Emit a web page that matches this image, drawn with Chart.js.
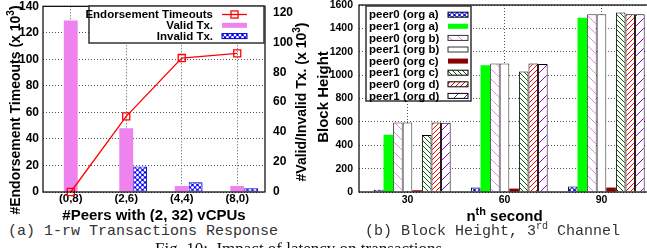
<!DOCTYPE html>
<html>
<head>
<meta charset="utf-8">
<script src="https://cdn.jsdelivr.net/npm/chart.js@4/dist/chart.umd.min.js"></script>
<style>
  body { margin: 0; width: 647px; height: 248px; overflow: hidden; background: #fff; position: relative; }
  canvas { position: absolute; top: 0; }
  .cap { position: absolute; top: 224px; font-family: "Liberation Mono", monospace; font-size: 15px; line-height: 15px; color: #333; white-space: nowrap; }
  .cap sup { font-size: 10px; line-height: 0; }
  #fig { position: absolute; left: 155px; top: 240px; font-family: "Liberation Serif", serif; font-size: 17px; line-height: 17px; color: #111; white-space: nowrap; }
</style>
</head>
<body>
<canvas id="chartA" width="318" height="222" style="left:0"></canvas>
<canvas id="chartB" width="340" height="222" style="left:312px"></canvas>
<div class="cap" style="left:8px">(a) 1-rw Transactions Response</div>
<div class="cap" style="left:365px">(b) Block Height, 3<sup>rd</sup> Channel</div>
<div id="fig">Fig. 10:&nbsp; Impact of latency on transactions</div>
<script>
// (a) data
const peerMix = ["(0,8)", "(2,6)", "(4,4)", "(8,0)"];
const endorsementTimeouts = [0, 57, 101, 104.5];
const validTx = [114.5, 42.5, 4, 4];
const invalidTx = [0, 17, 6.5, 2.5];
const leftTicksA = { min: 0, max: 140, step: 20 };
const rightTicksA = { min: 0, max: 124, step: 20 };

// (b) data
const seconds = ["30", "60", "90"];
const peer0a = [20, 38, 46];
const peer1a = [490, 1085, 1490];
const peer0b = [595, 1100, 1520];
const peer1b = [595, 1100, 1520];
const peer0c = [15, 29, 38];
const peer1c = [488, 1032, 1535];
const peer0d = [595, 1100, 1520];
const peer1d = [592, 1095, 1520];
const ticksB = { min: 0, max: 1600, step: 200 };

const FONT = '"Liberation Sans", Arial, sans-serif';

// hatch fills like gnuplot's patterns
function hatch(color, dir, step, lw) {
  const c = document.createElement("canvas");
  c.width = c.height = step;
  const g = c.getContext("2d");
  g.fillStyle = "#fff";
  g.fillRect(0, 0, step, step);
  g.strokeStyle = color;
  g.lineWidth = lw;
  g.beginPath();
  if (dir > 0) {
    g.moveTo(-1, step + 1); g.lineTo(step + 1, -1);
    g.moveTo(-1, 1); g.lineTo(1, -1);
    g.moveTo(step - 1, step + 1); g.lineTo(step + 1, step - 1);
  } else {
    g.moveTo(-1, -1); g.lineTo(step + 1, step + 1);
    g.moveTo(step - 1, -1); g.lineTo(step + 1, 1);
    g.moveTo(-1, step - 1); g.lineTo(1, step + 1);
  }
  g.stroke();
  return g.createPattern(c, "repeat");
}

function blueDots() {
  const c = document.createElement("canvas");
  c.width = c.height = 5;
  const g = c.getContext("2d");
  g.fillStyle = "#0000ff";
  g.fillRect(0, 0, 5, 5);
  g.fillStyle = "#fff";
  [[2.5, 2.5], [0, 0], [5, 0], [0, 5], [5, 5]].forEach(([x, y]) => {
    g.beginPath(); g.arc(x, y, 1.4, 0, Math.PI * 2); g.fill();
  });
  return g.createPattern(c, "repeat");
}

function drawParts(ctx, parts, x, y, rot, size) {
  ctx.save();
  ctx.translate(x, y);
  ctx.rotate(rot);
  const big = `bold ${size}px ${FONT}`;
  const small = `bold ${Math.round(size * 0.7)}px ${FONT}`;
  let w = 0;
  parts.forEach((p) => { ctx.font = p.sup ? small : big; w += ctx.measureText(p.t).width; });
  let cx = -w / 2;
  ctx.textAlign = "left";
  ctx.textBaseline = "alphabetic";
  ctx.fillStyle = "#000";
  parts.forEach((p) => {
    ctx.font = p.sup ? small : big;
    ctx.fillText(p.t, cx, size * 0.36 - (p.sup ? size * 0.42 : 0));
    cx += ctx.measureText(p.t).width;
  });
  ctx.restore();
}

// frame, boxed legend and axis titles (with superscripts)
const decor = {
  id: "decor",
  afterDatasetsDraw(chart, args, o) {
    const { ctx, chartArea: a } = chart;
    ctx.save();
    ctx.strokeStyle = "#000";
    ctx.lineWidth = 1.2;
    ctx.strokeRect(a.left, a.top, a.right - a.left, a.bottom - a.top);

    const L = o.legend;
    ctx.fillStyle = "#fff";
    ctx.fillRect(L.x, L.y, L.w, L.h);
    ctx.strokeStyle = "#333";
    ctx.lineWidth = 1.5;
    ctx.strokeRect(L.x, L.y, L.w, L.h);
    ctx.font = `bold 11.5px ${FONT}`;
    ctx.textBaseline = "middle";
    let i = 0;
    chart.data.datasets.forEach((ds) => {
      if (!ds.label) return;
      const y = L.rowY + i * L.rowH;
      i++;
      ctx.fillStyle = "#000";
      ctx.textAlign = L.align;
      ctx.fillText(ds.label, L.textX, y + 0.5);
      if (ds.type === "line") {
        ctx.strokeStyle = ds.borderColor;
        ctx.lineWidth = ds.borderWidth;
        ctx.beginPath();
        ctx.moveTo(L.sx, y); ctx.lineTo(L.sx + L.sw, y);
        ctx.stroke();
        const s = ds.pointRadius * Math.SQRT1_2;
        ctx.strokeRect(L.sx + L.sw / 2 - s, y - s, 2 * s, 2 * s);
      } else {
        ctx.fillStyle = ds.backgroundColor;
        ctx.fillRect(L.sx, y - L.sh / 2, L.sw, L.sh);
        if (ds.borderWidth) {
          ctx.strokeStyle = ds.borderColor;
          ctx.lineWidth = 1;
          ctx.strokeRect(L.sx, y - L.sh / 2, L.sw, L.sh);
        }
      }
    });

    o.titles.forEach((t) => drawParts(ctx, t.parts, t.x, t.y, t.rot || 0, t.size));
    ctx.restore();
  },
};

function fixWidth(w) {
  return (s) => { s.width = w; s.paddingTop = 0; s.paddingBottom = 0; };
}
function fixHeight(h) {
  return (s) => { s.height = h; s.paddingLeft = 0; s.paddingRight = 0; };
}
const plain = (v) => String(v);
const dotted = { display: false, dash: [1, 2] };
const gridStyle = { color: "#555", lineWidth: 1, drawTicks: false };

new Chart(document.getElementById("chartA"), {
  type: "bar",
  data: {
    labels: peerMix,
    datasets: [
      {
        type: "line", label: "Endorsement Timeouts", data: endorsementTimeouts, yAxisID: "y",
        borderColor: "#ff0000", borderWidth: 1.3, pointStyle: "rect", pointRadius: 5,
        pointBorderWidth: 1.3, pointBackgroundColor: "rgba(0,0,0,0)", pointBorderColor: "#ff0000",
        clip: false, order: 0,
      },
      // empty slot so the valid bars sit on the tick
      { label: "", data: peerMix.map(() => null), yAxisID: "y2", order: 1 },
      { label: "Valid Tx.", data: validTx, yAxisID: "y2", backgroundColor: "#ee82ee", borderWidth: 0, order: 1 },
      {
        label: "Invalid Tx.", data: invalidTx, yAxisID: "y2", backgroundColor: blueDots(),
        borderColor: "#0000cc", borderWidth: 1, borderSkipped: false, order: 1,
      },
    ],
  },
  options: {
    responsive: false,
    animation: false,
    layout: { padding: { top: 5, left: 0, right: 0, bottom: 0 } },
    datasets: { bar: { categoryPercentage: 0.751, barPercentage: 1 } },
    plugins: {
      legend: { display: false },
      tooltip: { enabled: false },
      decor: {
        legend: { x: 89, y: 6, w: 175, h: 37, rowY: 14.5, rowH: 10.8, align: "right", textX: 213, sx: 222, sw: 25, sh: 5 },
        titles: [
          { parts: [{ t: "#Endorsement Timeouts (x 10" }, { t: "3", sup: true }, { t: ")" }], x: 15, y: 110, rot: -Math.PI / 2, size: 14 },
          { parts: [{ t: "#Valid/Invalid Tx. (x 10" }, { t: "3", sup: true }, { t: ")" }], x: 301, y: 102, rot: -Math.PI / 2, size: 14 },
          { parts: [{ t: "#Peers with (2, 32) vCPUs" }], x: 154, y: 215, size: 15 },
        ],
      },
    },
    scales: {
      x: {
        grid: { ...gridStyle, offset: false },
        border: dotted,
        ticks: { color: "#000", font: { family: FONT, size: 11.5, weight: "bold" }, padding: 0 },
        afterFit: fixHeight(30),
      },
      y: {
        min: leftTicksA.min, max: leftTicksA.max,
        grid: gridStyle,
        border: dotted,
        ticks: { stepSize: leftTicksA.step, callback: plain, color: "#000", font: { family: FONT, size: 12, weight: "bold" }, padding: 4 },
        afterFit: fixWidth(43),
      },
      y2: {
        position: "right",
        min: rightTicksA.min, max: rightTicksA.max,
        grid: { drawOnChartArea: false, drawTicks: false },
        border: { display: false },
        ticks: { stepSize: rightTicksA.step, includeBounds: false, callback: plain, color: "#000", font: { family: FONT, size: 12, weight: "bold" }, padding: 8 },
        afterFit: fixWidth(53),
      },
    },
  },
  plugins: [decor],
});

const edge = "#333";
new Chart(document.getElementById("chartB"), {
  type: "bar",
  data: {
    labels: seconds,
    datasets: [
      // empty slot, gnuplot's cluster sits a little right of the tick
      { label: "", data: seconds.map(() => null) },
      { label: "peer0 (org a)", data: peer0a, backgroundColor: blueDots(), borderColor: "#000", borderWidth: 1 },
      { label: "peer1 (org a)", data: peer1a, backgroundColor: "#00ff00", borderWidth: 0 },
      { label: "peer0 (org b)", data: peer0b, backgroundColor: hatch("#ee82ee", -1, 10, 1), borderColor: edge, borderWidth: 1 },
      { label: "peer1 (org b)", data: peer1b, backgroundColor: "#fff", borderColor: edge, borderWidth: 1 },
      { label: "peer0 (org c)", data: peer0c, backgroundColor: "#8b0000", borderWidth: 0 },
      { label: "peer1 (org c)", data: peer1c, backgroundColor: hatch("#006400", -1, 5, 1), borderColor: "#000", borderWidth: 1 },
      { label: "peer0 (org d)", data: peer0d, backgroundColor: hatch("#ff0000", 1, 5, 1), borderColor: "#000", borderWidth: 1 },
      { label: "peer1 (org d)", data: peer1d, backgroundColor: hatch("#9400d3", 1, 10, 1), borderColor: "#000", borderWidth: 1 },
    ],
  },
  options: {
    responsive: false,
    animation: false,
    layout: { padding: { top: 5, left: 0, right: 2, bottom: 0 } },
    datasets: { bar: { categoryPercentage: 0.89, barPercentage: 1, borderSkipped: "start" } },
    plugins: {
      legend: { display: false },
      tooltip: { enabled: false },
      decor: {
        legend: { x: 54, y: 6, w: 105, h: 95, rowY: 14.7, rowH: 11.6, align: "left", textX: 57, sx: 136, sw: 20, sh: 5 },
        titles: [
          { parts: [{ t: "Block Height" }], x: 11, y: 97, rot: -Math.PI / 2, size: 15 },
          { parts: [{ t: "n" }, { t: "th", sup: true }, { t: " second" }], x: 192.5, y: 216, size: 15 },
        ],
      },
    },
    scales: {
      x: {
        grid: { ...gridStyle, offset: false },
        border: dotted,
        ticks: { color: "#000", font: { family: FONT, size: 10.5, weight: "bold" }, padding: 2 },
        afterFit: fixHeight(30),
      },
      y: {
        min: ticksB.min, max: ticksB.max,
        grid: gridStyle,
        border: dotted,
        ticks: { stepSize: ticksB.step, callback: plain, color: "#000", font: { family: FONT, size: 10.5, weight: "bold" }, padding: 6 },
        afterFit: fixWidth(47),
      },
    },
  },
  plugins: [decor],
});
</script>
</body>
</html>
